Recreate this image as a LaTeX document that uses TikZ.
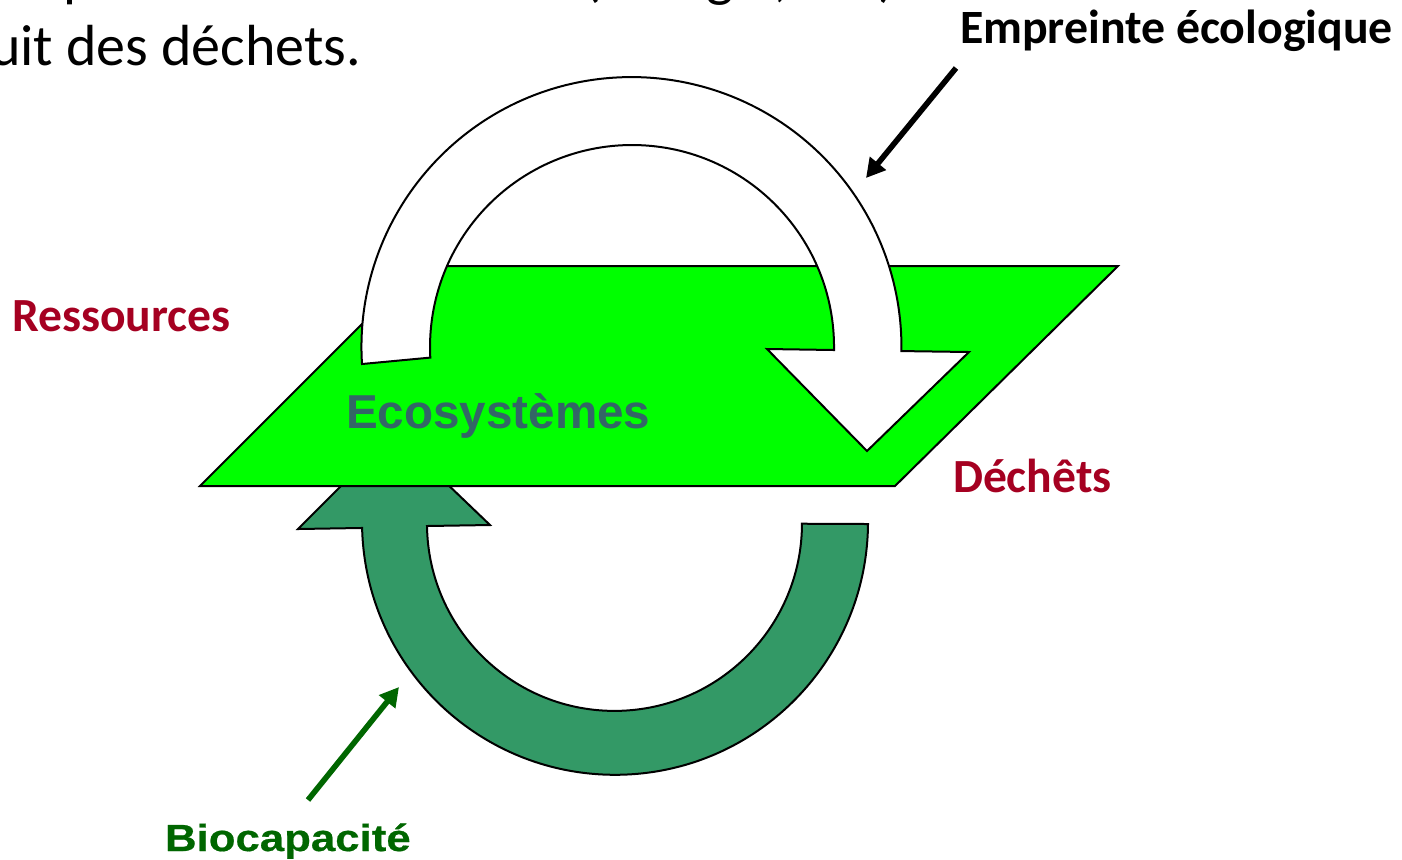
\documentclass[tikz,border=0pt]{standalone}
\usepackage{fontspec}
\setmainfont{Carlito}
\newfontfamily\arialf{Liberation Sans}
\newfontfamily\biofont[BoldFont={Liberation Sans Bold},BoldFeatures={FakeBold=0.5}]{Liberation Sans}
\usetikzlibrary{arrows.meta}
\definecolor{seag}{HTML}{339966}
\definecolor{lime}{HTML}{00FF00}
\definecolor{ecotxt}{HTML}{336666}
\definecolor{redlab}{HTML}{A50021}
\definecolor{biogreen}{HTML}{006600}
\tikzset{
  shapeline/.style={draw=black,line width=1pt,line join=miter},
  label base/.style={inner sep=0pt,outer sep=0pt,anchor=base west},
  bodytxt/.style={label base,font=\fontsize{29}{29}\selectfont,text=black},
  redtxt/.style={label base,font=\fontsize{23.8}{23.8}\selectfont\bfseries,text=redlab},
  pointer/.style={line width=2.8pt,-{Triangle[length=9.5pt,width=10pt]}}
}
\begin{document}
\begin{tikzpicture}[x=0.5pt,y=0.5pt]
\useasboundingbox (0,0) rectangle (1402,-859);
% cropped text lines at the top
\node[bodytxt] (p1) at (63,5) {p};
\node[bodytxt] (p2) at (583,5) {(};
\node[bodytxt] (p3) at (706,5) {g};
\node[bodytxt] (p4) at (774,5) {,};
\node[bodytxt] (p5) at (878,5) {)};
\node[bodytxt] (line2) at (-10,-65.5) {uit des déchets.};
% green arrow (behind the plane)
\draw[shapeline,fill=seag] (868,-524) arc[start angle=-0.5,end angle=-178.6,radius=253]
  -- (298,-529) -- (394,-433) -- (490,-525) -- (427,-526)
  arc[start angle=-179.2,end angle=-0.1,radius=187.5] -- cycle;
% plane
\draw[shapeline,fill=lime] (200,-486) -- (895,-486) -- (1118,-266) -- (420,-266) -- cycle;
% white arrow
\draw[shapeline,fill=white] (362,-364) arc[start angle=183.6,end angle=-0.85,radius=270]
  -- (969,-352) -- (867,-451) -- (767,-349) -- (834,-350)
  arc[start angle=-0.85,end angle=183,radius=202] -- cycle;
% labels
\node[label base,font=\fontsize{23.9}{23.9}\selectfont\bfseries] (emp) at (960,-43) {Empreinte écologique};
\node[redtxt] (res) at (12,-331) {Ressources};
\node[redtxt] (dec) at (953,-492) {Déchêts};
\node[label base,font=\arialf\fontsize{23.8}{23.8}\selectfont\bfseries,text=ecotxt] (eco) at (346,-428) {Ecosystèmes};
\node[label base,text=biogreen,font=\biofont\fontsize{18.9}{18.9}\selectfont\bfseries] (bio) at (165,-851) {\scalebox{1.158}[1]{Biocapacité}};
% pointers
\coordinate (empA) at (956,-68);
\coordinate (empB) at (866,-178);
\coordinate (bioA) at (308,-800);
\coordinate (bioB) at (399,-687);
\draw[pointer,black] (empA) -- (empB);
\draw[pointer,biogreen] (bioA) -- (bioB);
\end{tikzpicture}
\end{document}
